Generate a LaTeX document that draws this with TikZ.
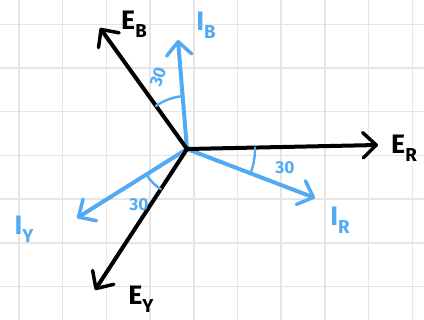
\documentclass[tikz,border=0pt]{standalone}
\usepackage{fontspec}
\setmainfont{Fira Sans}
\usetikzlibrary{arrows.meta}
\definecolor{phblue}{HTML}{52AAF5}
\newcommand\phlab[2]{#1\raisebox{-0.55ex}{\fontsize{14}{14}\selectfont #2}}
\begin{document}
\begin{tikzpicture}[x=0.75pt,y=-0.75pt,
  gridline/.style={draw=black!10, line width=1.1pt},
  phasor/.style={line width=3pt, line cap=round,
    -{Straight Barb[length=10pt,width=19pt,line width=2.6pt,round]}},
  angarc/.style={line width=1.8pt, draw=phblue, line cap=round},
  bigtxt/.style={font=\fontsize{20}{20}\selectfont\bfseries, inner sep=0pt},
  numtxt/.style={font=\fontsize{13}{13}\selectfont\bfseries, text=phblue, inner sep=0pt}]
\useasboundingbox (0,0) rectangle (424,320);
\fill[white] (0,0) rectangle (424,320);
\foreach \i in {0,...,9} \draw[gridline] ({19+43.7*\i},0) -- ({19+43.7*\i},320);
\foreach \j in {0,...,6} \draw[gridline] (0,{24.3+43.7*\j}) -- (424,{24.3+43.7*\j});
% phasor end points
\coordinate (O) at (187,149);
\coordinate (EB) at (100,28);
\coordinate (IB) at (178,40);
\coordinate (ER) at (378,145);
\coordinate (IR) at (315,198);
\coordinate (EY) at (95,290);
\coordinate (IY) at (77,218);
% current phasors (blue)
\draw[phasor, phblue] (O) -- (IB);
\draw[phasor, phblue] (O) -- (IR);
\draw[phasor, phblue] (O) -- (IY);
% voltage phasors (black)
\draw[phasor, black] (O) -- (EB);
\draw[phasor, black] (O) -- (ER);
\draw[phasor, black] (O) -- (EY);
% angle arcs
\draw[angarc] (O) ++(-125.9:53) arc[start angle=-125.9, end angle=-94.4, radius=53];
\draw[angarc] (O) ++(-1.2:68) arc[start angle=-1.2, end angle=20.9, radius=68];
\draw[angarc] (O) ++(123.1:48) arc[start angle=123.1, end angle=147.9, radius=48];
% labels
\node[bigtxt, text=black] (lEB) at (134,24) {\phlab{E}{B}};
\node[bigtxt, text=phblue] (lIB) at (206,25) {\phlab{I}{B}};
\node[bigtxt, text=black] (lER) at (404,148) {\phlab{E}{R}};
\node[bigtxt, text=phblue] (lIR) at (340,220) {\phlab{I}{R}};
\node[bigtxt, text=black] (lEY) at (141,299) {\phlab{E}{Y}};
\node[bigtxt, text=phblue] (lIY) at (24,229) {\phlab{I}{Y}};
\node[numtxt, rotate=72] (a1) at (158,77) {30};
\node[numtxt] (a2) at (285,168) {30};
\node[numtxt] (a3) at (139,205) {30};
\end{tikzpicture}
\end{document}
